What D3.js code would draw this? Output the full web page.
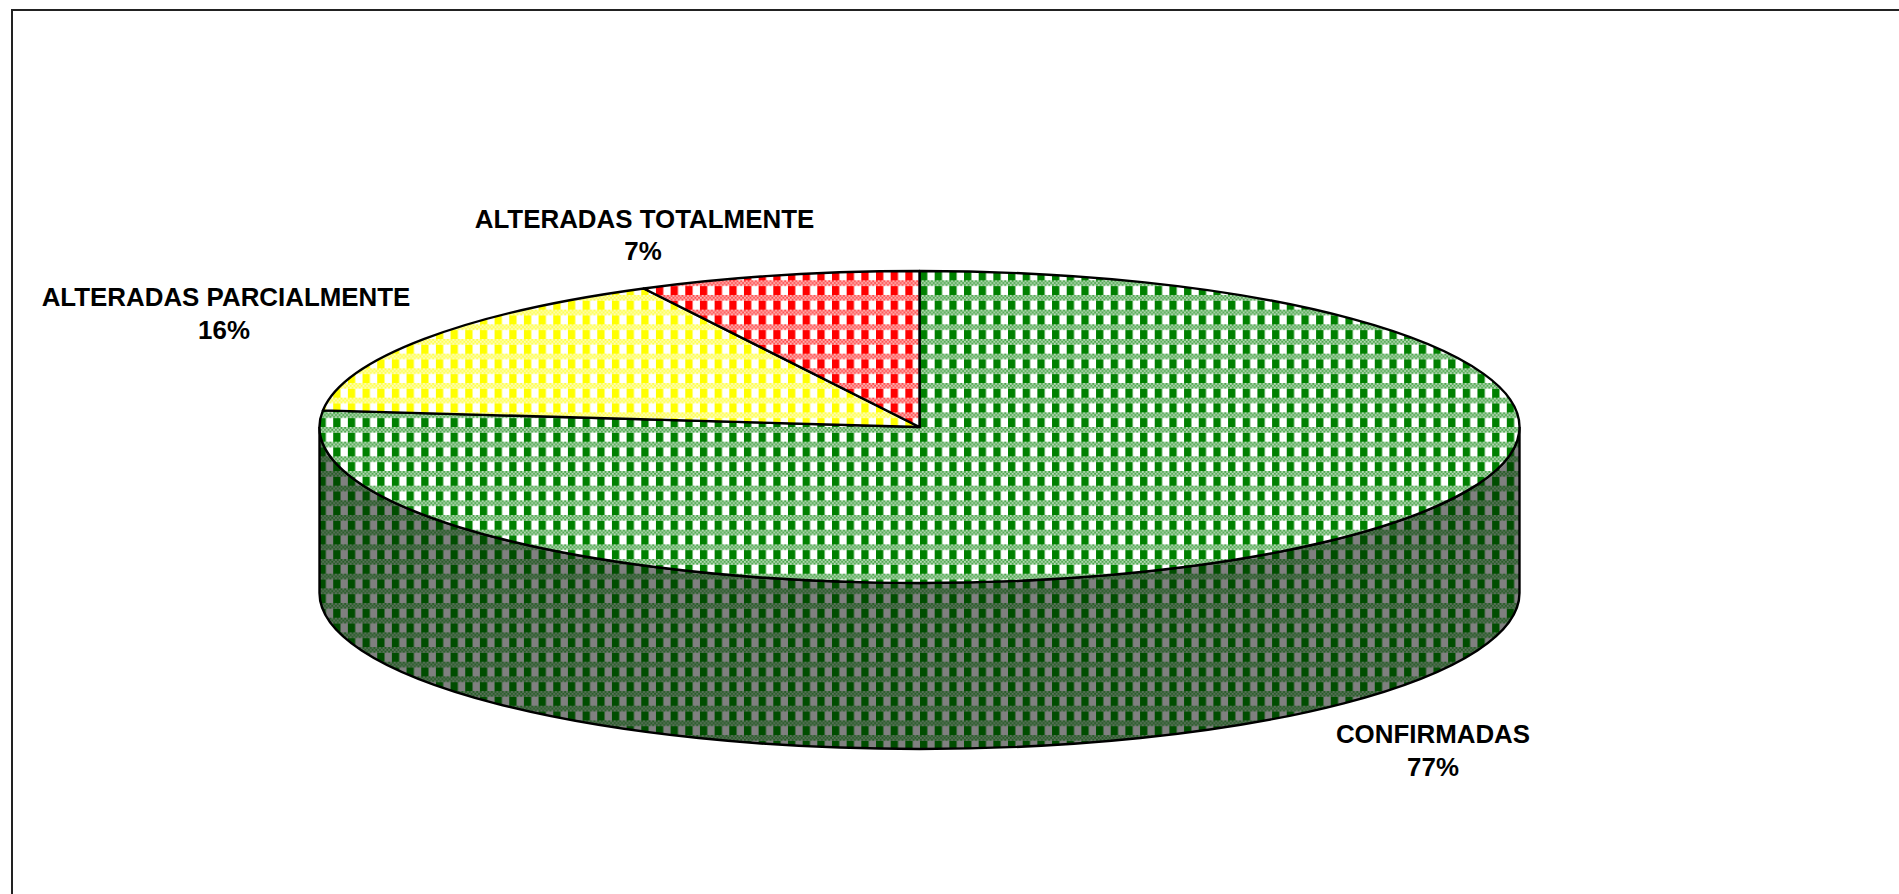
<!DOCTYPE html>
<html><head><meta charset="utf-8">
<script src="https://cdnjs.cloudflare.com/ajax/libs/d3/7.9.0/d3.min.js"></script>
<style>html,body{margin:0;padding:0;background:#fff;overflow:hidden}svg{display:block}</style>
</head><body><div id="c"></div>
<script>
const categories = ["CONFIRMADAS", "ALTERADAS PARCIALMENTE", "ALTERADAS TOTALMENTE"];
const values = [76.7, 15.7, 7.6];
const percentLabels = ["77%", "16%", "7%"];
const colors = ["#008000", "#ffff00", "#ff0000"];
const labelCentres = [[1433, 743], [226, 306], [644.5, 227.5]];
const percentCentres = [1433, 224, 643];

const W = 1899, H = 894;
const cx = 919.5, cy = 427, rx = 600, ry = 156, depth = 166;
const svg = d3.select("#c").append("svg").attr("width", W).attr("height", H);
const defs = svg.append("defs");

const T = 14.67, chk = T / 8;
function tile(id, fg, bg) {
  const p = defs.append("pattern").attr("id", id).attr("patternUnits", "userSpaceOnUse")
    .attr("width", T).attr("height", T)
    .attr("patternTransform", "translate(920,280.3)");
  const mix = d3.interpolateRgb(fg, bg);
  p.append("rect").attr("width", T).attr("height", T).attr("fill", bg);
  p.append("rect").attr("y", chk * 3).attr("width", T / 2).attr("height", T - chk * 3).attr("fill", fg);
  // softened fine checker band, as in the resampled source bitmap
  p.append("rect").attr("width", T).attr("height", chk * 3).attr("fill", mix(0.72));
  for (let r = 0; r < 3; r++) for (let c = 0; c < 8; c++) {
    if ((r + c) % 2 === 0) p.append("rect").attr("x", c * chk).attr("y", r * chk)
      .attr("width", chk).attr("height", chk).attr("fill", mix(0.28));
  }
}
colors.forEach((c, i) => tile("top" + i, c, "#ffffff"));
tile("side0", "#004d00", "#808080");

const pie = d3.pie().sort(null).value(d => d);
const arcs = pie(values);
const px = d3.scaleLinear().domain([-1, 1]).range([cx - rx, cx + rx]);
const py = d3.scaleLinear().domain([-1, 1]).range([cy - ry, cy + ry]);
const pt = a => [px(Math.sin(a)), py(-Math.cos(a))];

// side wall of the visible front half
const side = `M${px(-1)},${cy}L${px(-1)},${cy + depth}A${rx},${ry} 0 0 0 ${px(1)},${cy + depth}L${px(1)},${cy}A${rx},${ry} 0 0 1 ${px(-1)},${cy}Z`;
svg.append("path").attr("d", side).attr("fill", "url(#side0)").attr("stroke", "#000").attr("stroke-width", 2.4);

svg.selectAll("path.slice").data(arcs).join("path").attr("class", "slice")
  .attr("d", d => {
    const [x0, y0] = pt(d.startAngle), [x1, y1] = pt(d.endAngle);
    const large = d.endAngle - d.startAngle > Math.PI ? 1 : 0;
    return `M${cx},${cy}L${x0},${y0}A${rx},${ry} 0 ${large} 1 ${x1},${y1}Z`;
  })
  .attr("fill", (d, i) => `url(#top${i})`)
  .attr("stroke", "#000").attr("stroke-width", 2.4).attr("stroke-linejoin", "round");

const text = svg.selectAll("text.lab").data(categories).join("text").attr("class", "lab")
  .attr("text-anchor", "middle")
  .attr("font-family", "'Liberation Sans', Arial, sans-serif")
  .attr("font-weight", "bold").attr("font-size", 25.9).attr("fill", "#000");
text.append("tspan").attr("x", (d, i) => labelCentres[i][0]).attr("y", (d, i) => labelCentres[i][1]).text(d => d);
text.append("tspan").attr("x", (d, i) => percentCentres[i]).attr("y", (d, i) => labelCentres[i][1] + 32.7).text((d, i) => percentLabels[i]);

// frame: top and left edges
svg.append("path").attr("d", `M${W},10H12V${H}`).attr("fill", "none").attr("stroke", "#222").attr("stroke-width", 2);
</script></body></html>
